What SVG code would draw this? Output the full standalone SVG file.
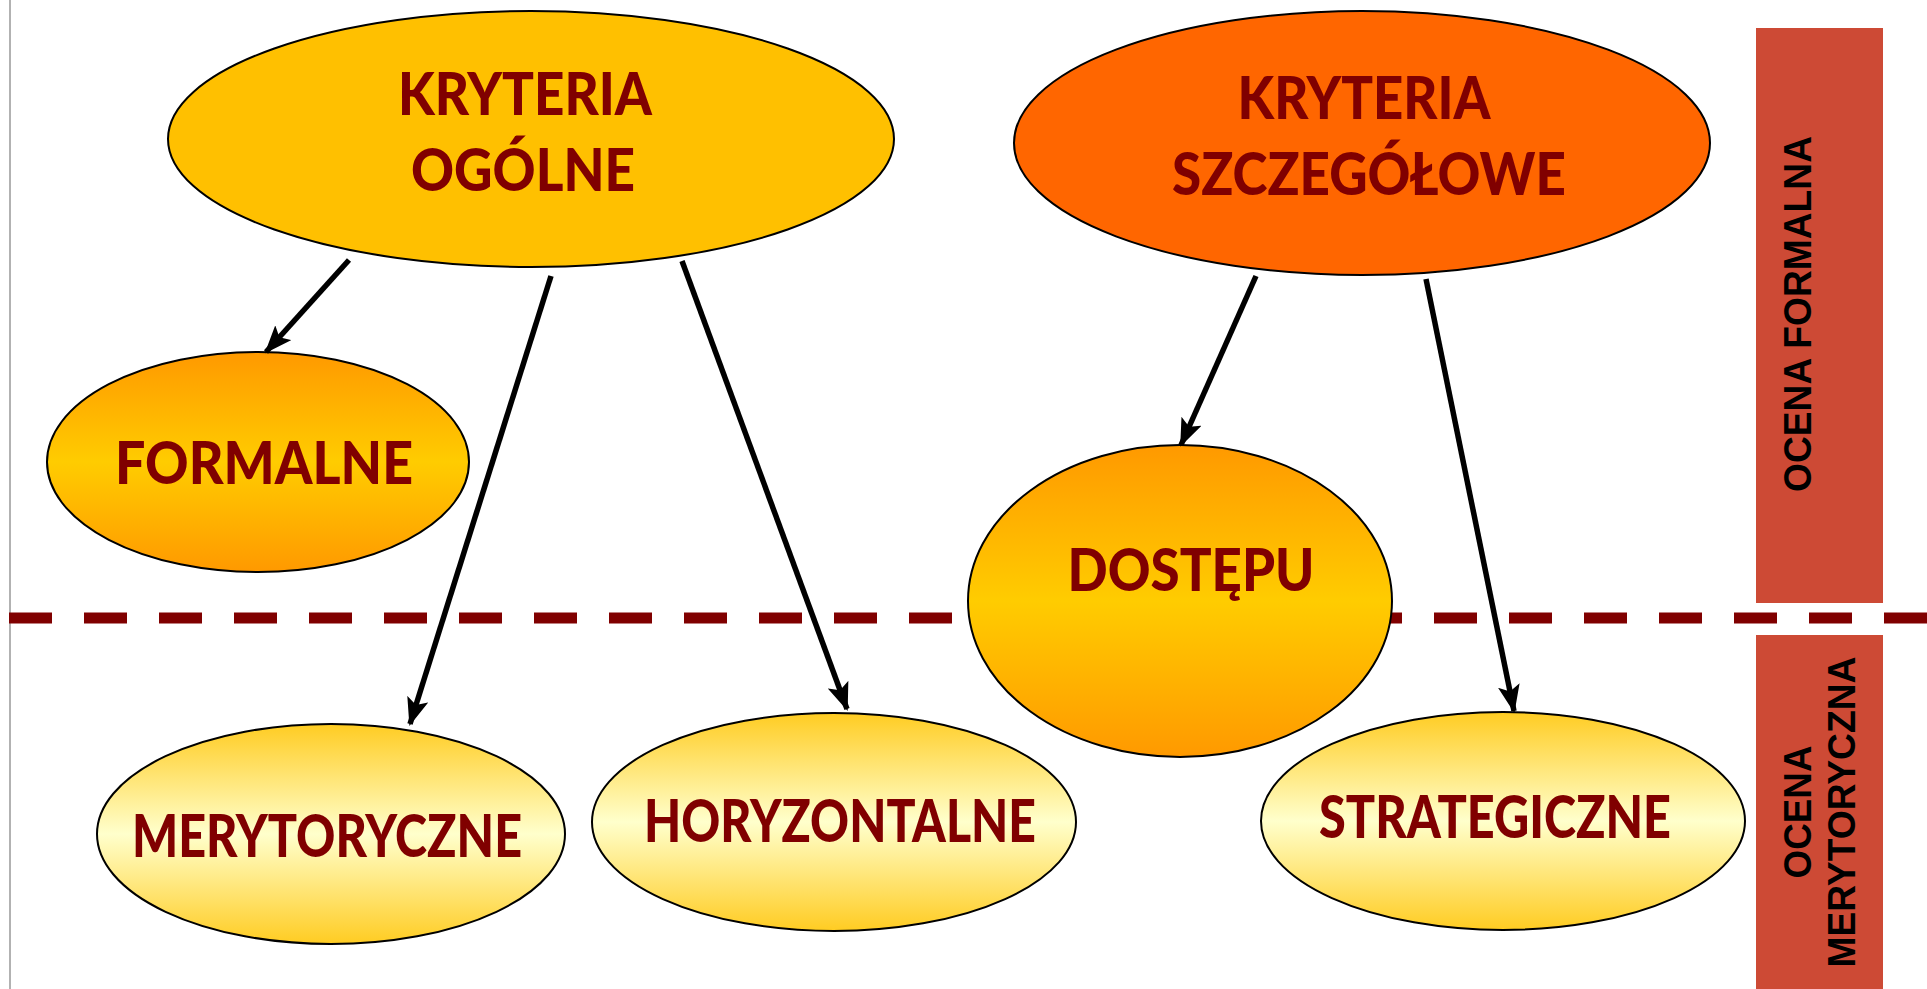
<svg xmlns="http://www.w3.org/2000/svg" width="1927" height="989" viewBox="0 0 1927 989">
<style>
.node{stroke:#000;stroke-width:2}
.lbl{font-family:Lato,"Open Sans",sans-serif;font-weight:900;fill:#800000;font-size:59px;text-anchor:middle}
.side{font-family:"Liberation Sans",Arial,sans-serif;font-weight:bold;fill:#000;font-size:38px;text-anchor:middle}
.conn{stroke:#000;stroke-width:5.5;fill:none;marker-end:url(#ah)}
</style>
<defs>
<linearGradient id="gOr" x1="0" y1="0" x2="0" y2="1">
<stop offset="0" stop-color="#FF9900"/><stop offset="0.5" stop-color="#FFCC00"/><stop offset="1" stop-color="#FF9900"/>
</linearGradient>
<linearGradient id="gLt" x1="0" y1="0" x2="0" y2="1">
<stop offset="0" stop-color="#FFCC22"/><stop offset="0.5" stop-color="#FFFFCC"/><stop offset="1" stop-color="#FFCC22"/>
</linearGradient>
<marker id="ah" markerUnits="userSpaceOnUse" markerWidth="28" markerHeight="22" refX="26" refY="11" orient="auto">
<path d="M0,0 L28,11 L0,22 L6,11 Z" fill="#000"/>
</marker>
</defs>
<rect width="1927" height="989" fill="#fff"/>
<line x1="10" y1="0" x2="10" y2="989" stroke="#999" stroke-width="1.5"/>
<rect x="1756" y="28" width="127" height="575" fill="#CD4A35"/>
<rect x="1756" y="635" width="127" height="354" fill="#CD4A35"/>
<line x1="9" y1="618" x2="1927" y2="618" stroke="#800000" stroke-width="11" stroke-dasharray="43 32"/>
<text class="side" transform="translate(1811,314) rotate(-90)" textLength="356" lengthAdjust="spacingAndGlyphs">OCENA FORMALNA</text>
<text class="side" transform="translate(1811,812) rotate(-90)" textLength="133" lengthAdjust="spacingAndGlyphs">OCENA</text>
<text class="side" transform="translate(1855,812) rotate(-90)" textLength="311" lengthAdjust="spacingAndGlyphs">MERYTORYCZNA</text>
<g id="n-ogolne">
<ellipse class="node" cx="531" cy="139" rx="363" ry="128" fill="#FFC000"/>
<text class="lbl" x="525" y="115" textLength="254" lengthAdjust="spacingAndGlyphs">KRYTERIA</text>
<text class="lbl" x="523" y="191" textLength="224" lengthAdjust="spacingAndGlyphs">OGÓLNE</text>
</g>
<g id="n-szczegolowe">
<ellipse class="node" cx="1362" cy="143" rx="348" ry="132" fill="#FF6600"/>
<text class="lbl" x="1364" y="119" textLength="253" lengthAdjust="spacingAndGlyphs">KRYTERIA</text>
<text class="lbl" x="1369" y="195" textLength="394" lengthAdjust="spacingAndGlyphs">SZCZEGÓŁOWE</text>
</g>
<g id="n-formalne">
<ellipse class="node" cx="258" cy="462" rx="211" ry="110" fill="url(#gOr)"/>
<text class="lbl" x="264" y="484" textLength="298" lengthAdjust="spacingAndGlyphs">FORMALNE</text>
</g>
<g id="n-dostepu">
<ellipse class="node" cx="1180" cy="601" rx="212" ry="156" fill="url(#gOr)"/>
<text class="lbl" x="1191" y="591" textLength="247" lengthAdjust="spacingAndGlyphs">DOSTĘPU</text>
</g>
<g id="n-merytoryczne">
<ellipse class="node" cx="331" cy="834" rx="234" ry="110" fill="url(#gLt)"/>
<text class="lbl" x="327" y="857" textLength="390" lengthAdjust="spacingAndGlyphs">MERYTORYCZNE</text>
</g>
<g id="n-horyzontalne">
<ellipse class="node" cx="834" cy="822" rx="242" ry="109" fill="url(#gLt)"/>
<text class="lbl" x="840" y="842" textLength="392" lengthAdjust="spacingAndGlyphs">HORYZONTALNE</text>
</g>
<g id="n-strategiczne">
<ellipse class="node" cx="1503" cy="821" rx="242" ry="109" fill="url(#gLt)"/>
<text class="lbl" x="1495" y="838" textLength="352" lengthAdjust="spacingAndGlyphs">STRATEGICZNE</text>
</g>
<g id="connectors">
<line class="conn" x1="349" y1="260" x2="266" y2="352"/>
<line class="conn" x1="551" y1="276" x2="410" y2="724"/>
<line class="conn" x1="682" y1="261" x2="847" y2="709"/>
<line class="conn" x1="1256" y1="276" x2="1181" y2="445"/>
<line class="conn" x1="1426" y1="279" x2="1514" y2="711"/>
</g>
</svg>
